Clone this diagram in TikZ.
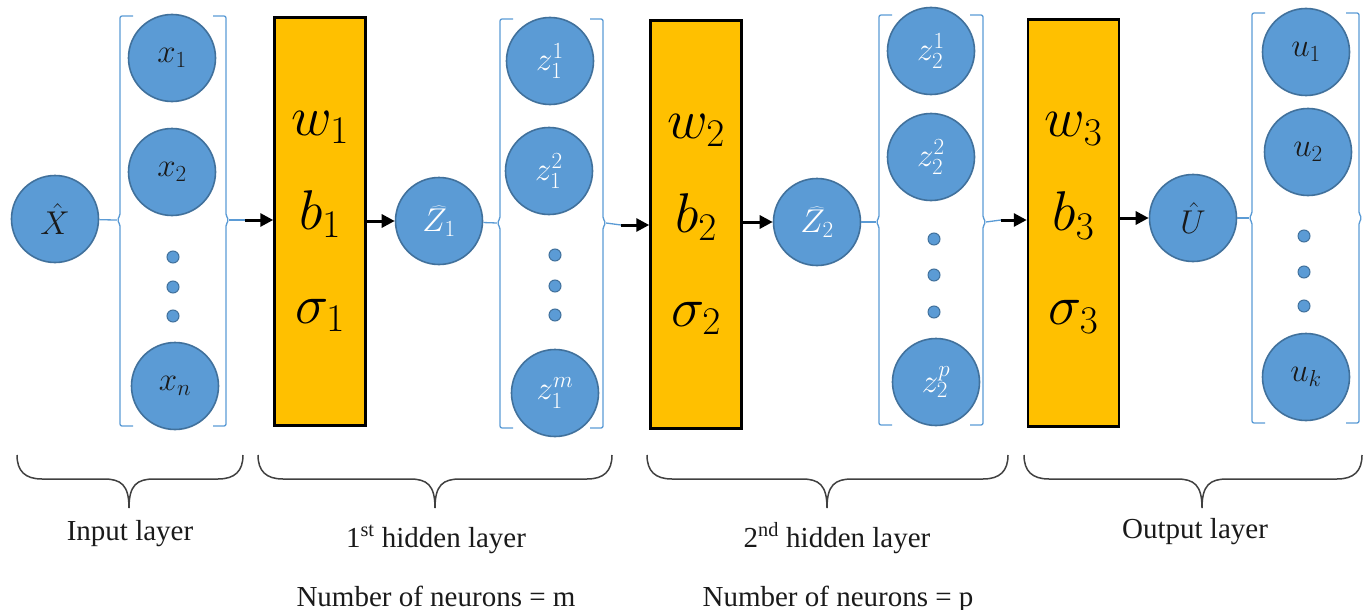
\documentclass[tikz,border=0pt]{standalone}
\usepackage{fix-cm}
\usepackage[no-math]{fontspec}
\setmainfont{Liberation Serif}
\usetikzlibrary{arrows.meta}

\definecolor{nfill}{HTML}{5B9BD5}
\definecolor{nborder}{HTML}{41719C}
\definecolor{brkcol}{HTML}{5B9BD5}
\definecolor{boxfill}{HTML}{FFC000}
\definecolor{ink}{HTML}{1A1A1A}

\tikzset{
  neuron/.style={circle, draw=nborder, fill=nfill, line width=1.6pt,
    minimum size=87pt, inner sep=0pt, font=\fontsize{33}{38}\selectfont},
  darktext/.style={text=ink},
  lighttext/.style={text=white},
  dotn/.style={circle, draw=nborder, fill=nfill, line width=1pt,
    minimum size=12pt, inner sep=0pt},
  wbox/.style={draw=black, fill=boxfill, line width=2.5pt, minimum width=91pt,
    inner sep=0pt, align=center, font=\fontsize{56}{94}\selectfont},
  link/.style={draw=brkcol, line width=1.3pt},
  flow/.style={draw=black, line width=3pt, -{Triangle[length=13pt,width=13pt]}},
  brk/.style={draw=brkcol, line width=1.3pt, rounded corners=2pt},
  lbl/.style={font=\fontsize{29}{34}\selectfont, anchor=base, text=ink},
  bracecurve/.style={draw=black!75, line width=1.5pt}
}

% column bracket: name, left x, right x, top, bottom, middle y
\newcommand\colbracket[6]{%
  \draw[brk] (#2+13,#4) -- (#2,#4) -- (#2,#6-4) -- (#2-3,#6) -- (#2,#6+4) -- (#2,#5) -- (#2+13,#5);
  \draw[brk] (#3-13,#4) -- (#3,#4) -- (#3,#6-4) -- (#3+3,#6) -- (#3,#6+4) -- (#3,#5) -- (#3-13,#5);
  \coordinate (#1-l) at (#2-3,#6);
  \coordinate (#1-r) at (#3+3,#6);
}

% horizontal curly brace under a layer: left x, tip x, right x
\newcommand\layerbrace[3]{%
  \draw[bracecurve] (#1,455) .. controls (#1,471) and (#1+8,479) .. (#1+25,479)
    -- (#2-25,479) .. controls (#2-8,479) and (#2,485) .. (#2,508)
    .. controls (#2,485) and (#2+8,479) .. (#2+25,479)
    -- (#3-25,479) .. controls (#3-8,479) and (#3,471) .. (#3,455);
}

\begin{document}
\begin{tikzpicture}[x=1pt,y=-1pt]
\useasboundingbox (0,0) rectangle (1365,610);

% ---------- input layer ----------
\node[neuron,darktext] (X) at (55,219) {$\hat{X}$};
\colbracket{b1}{120}{226}{16}{426}{220}
\node[neuron,darktext] (x1) at (172,58) {$x_1$};
\node[neuron,darktext] (x2) at (172,172) {$x_2$};
\node[dotn] (xd1) at (173,257) {};
\node[dotn] (xd2) at (173,287) {};
\node[dotn] (xd3) at (173,316) {};
\node[neuron,darktext] (xn) at (175,386) {$x_n$};

% ---------- first weight block ----------
\node[wbox, minimum height=408pt] (w1) at (320,221.5) {$w_1$\\$b_1$\\$\sigma_1$};
\coordinate (a1) at (245,220);

% ---------- first hidden layer ----------
\node[neuron,lighttext] (Z1) at (439,221) {$\widehat{Z_1}$};
\colbracket{b2}{500}{603}{19}{428}{223}
\node[neuron,lighttext] (z11) at (550,61) {$z_1^1$};
\node[neuron,lighttext] (z12) at (549,171) {$z_1^2$};
\node[dotn] (zd1) at (555,255) {};
\node[dotn] (zd2) at (555,286) {};
\node[dotn] (zd3) at (555,315) {};
\node[neuron,lighttext] (z1m) at (555,393) {$z_1^m$};

% ---------- second weight block ----------
\node[wbox, minimum height=408pt] (w2) at (696,224.5) {$w_2$\\$b_2$\\$\sigma_2$};
\coordinate (a2) at (621,225);

% ---------- second hidden layer ----------
\node[neuron,lighttext] (Z2) at (817,222) {$\widehat{Z_2}$};
\colbracket{b3}{879}{983}{15}{425}{222}
\node[neuron,lighttext] (z21) at (931,51) {$z_2^1$};
\node[neuron,lighttext] (z22) at (931,157) {$z_2^2$};
\node[dotn] (pd1) at (934,239) {};
\node[dotn] (pd2) at (934,275) {};
\node[dotn] (pd3) at (934,312) {};
\node[neuron,lighttext] (z2p) at (936,382) {$z_2^p$};

% ---------- third weight block ----------
\node[wbox, minimum height=407pt] (w3) at (1073.5,223) {$w_3$\\$b_3$\\$\sigma_3$};
\coordinate (a3) at (1001,220);

% ---------- output layer ----------
\node[neuron,darktext] (U) at (1193,218) {$\hat{U}$};
\colbracket{b4}{1252}{1359}{13}{423}{218}
\node[neuron,darktext] (u1) at (1306,52) {$u_1$};
\node[neuron,darktext] (u2) at (1308,152) {$u_2$};
\node[dotn] (ud1) at (1304,236) {};
\node[dotn] (ud2) at (1304,272) {};
\node[dotn] (ud3) at (1304,306) {};
\node[neuron,darktext] (uk) at (1306,377) {$u_k$};

% ---------- connectors ----------
\draw[link] (X) -- (b1-l);
\draw[link] (b1-r) -- (a1);
\draw[flow] (a1) -- (w1.west |- a1);
\draw[flow] (w1.east |- Z1) -- (Z1);
\draw[link] (Z1) -- (b2-l);
\draw[link] (b2-r) -- (a2);
\draw[flow] (a2) -- (w2.west |- a2);
\draw[flow] (w2.east |- Z2) -- (Z2);
\draw[link] (Z2) -- (b3-l);
\draw[link] (b3-r) -- (a3);
\draw[flow] (a3) -- (w3.west |- a3);
\draw[flow] (w3.east |- U) -- (U);
\draw[link] (U) -- (b4-l);

% ---------- layer braces and captions ----------
\layerbrace{17}{129}{243}
\layerbrace{258}{435}{612}
\layerbrace{647}{827}{1008}
\layerbrace{1024}{1202}{1362}

\node[lbl] (capin) at (130,540) {Input layer};
\node[lbl] (caph1) at (436,547) {1\textsuperscript{st} hidden layer};
\node[lbl] (caph2) at (837,547) {2\textsuperscript{nd} hidden layer};
\node[lbl] (capout) at (1195,538) {Output layer};
\node[lbl] (nm) at (436,606) {Number of neurons = m};
\node[lbl] (np) at (838,606) {Number of neurons = p};
\end{tikzpicture}
\end{document}
